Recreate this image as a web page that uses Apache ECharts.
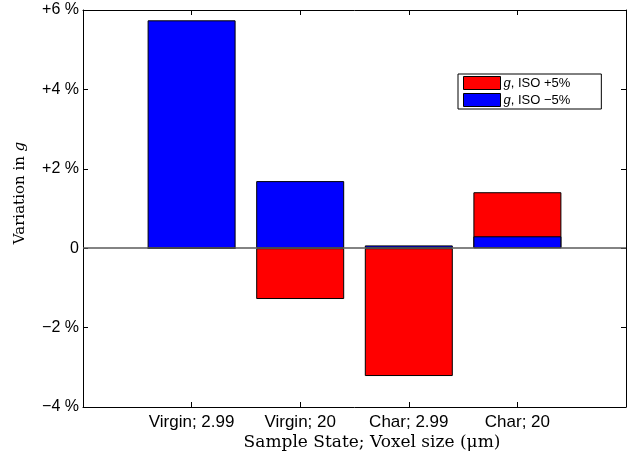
<!DOCTYPE html>
<html>
<head>
<meta charset="utf-8">
<script src="https://cdn.jsdelivr.net/npm/echarts@6/dist/echarts.min.js"></script>
<style>
html,body{margin:0;padding:0;background:#fff;}
#c{width:632px;height:457px;}
</style>
</head>
<body>
<div id="c"></div>
<script>
var categories = ['Virgin; 2.99', 'Virgin; 20', 'Char; 2.99', 'Char; 20'];
var isoPlus5 = [0, -1.28, -3.22, 1.41];
var isoMinus5 = [5.74, 1.69, 0.07, 0.30];
var yTicks = [-4, -2, 0, 2, 4, 6];
var yTickLabels = ['\u22124 %', '\u22122 %', '0', '+2 %', '+4 %', '+6 %'];
var seriesNames = ['g, ISO +5%', 'g, ISO \u22125%'];

var cats = [''].concat(categories).concat(['']);
var pad = function (a) { return [null].concat(a).concat([null]); };

var sans = 'Liberation Sans, Arial, Helvetica, sans-serif';
var serif = 'DejaVu Serif, serif';

var chart = echarts.init(document.getElementById('c'));
var axCommon = {
  axisLine: { show: true, onZero: false, lineStyle: { color: '#000', width: 1 } },
  axisTick: { show: true, inside: true, length: 5, lineStyle: { color: '#000' } },
  splitLine: { show: false }
};
chart.setOption({
  animation: false,
  backgroundColor: '#fff',
  grid: { left: 83, right: 6, top: 10, bottom: 50, containLabel: false },
  xAxis: [
    Object.assign({}, axCommon, {
      type: 'category', data: cats, boundaryGap: false, position: 'bottom',
      axisLabel: { color: '#000', fontFamily: sans, fontSize: 17, margin: 7, interval: 0 }
    }),
    Object.assign({}, axCommon, {
      type: 'category', data: cats, boundaryGap: false, position: 'top',
      axisLabel: { show: false }
    })
  ],
  yAxis: [
    Object.assign({}, axCommon, {
      type: 'value', min: -4, max: 6, interval: 2, position: 'left',
      axisLabel: {
        color: '#000', fontFamily: sans, fontSize: 16, margin: 4,
        formatter: function (v) { var i = yTicks.indexOf(v); return i >= 0 ? yTickLabels[i] : ''; }
      }
    }),
    Object.assign({}, axCommon, {
      type: 'value', min: -4, max: 6, interval: 2, position: 'right',
      axisLabel: { show: false }
    })
  ],
  legend: {
    orient: 'vertical', left: 458, top: 74,
    padding: [2, 31, 2, 5], itemGap: 3, itemWidth: 37, itemHeight: 13,
    backgroundColor: '#fff', borderColor: '#000', borderWidth: 1, borderRadius: 0,
    icon: 'rect',
    itemStyle: { borderColor: '#000', borderWidth: 1 },
    data: seriesNames,
    formatter: function (name) { return '{i|g}' + name.slice(1); },
    textStyle: {
      color: '#000', fontFamily: sans, fontSize: 13, padding: [0, 0, 0, -2],
      rich: { i: { fontStyle: 'italic', fontFamily: sans, fontSize: 13, color: '#000' } }
    }
  },
  graphic: [
    { type: 'text', x: 372, y: 443,
      style: { text: 'Sample State; Voxel size (\u03bcm)', font: '17px ' + serif, fill: '#000', align: 'center', verticalAlign: 'middle' } },
    { type: 'text', rotation: Math.PI / 2, x: 20, y: 193,
      style: {
        text: 'Variation in {i|g}', font: '15px ' + serif, fill: '#000', align: 'center', verticalAlign: 'middle',
        rich: { i: { fontStyle: 'italic', fontFamily: serif, fontSize: 15 } }
      } }
  ],
  series: [
    {
      name: seriesNames[0], type: 'bar', data: pad(isoPlus5), barWidth: 88, barGap: '-100%',
      itemStyle: { color: '#ff0000', borderColor: '#000', borderWidth: 1 }
    },
    {
      name: seriesNames[1], type: 'bar', data: pad(isoMinus5), barWidth: 88, barGap: '-100%',
      itemStyle: { color: '#0000ff', borderColor: '#000', borderWidth: 1 },
      markLine: {
        silent: true, symbol: 'none', label: { show: false },
        lineStyle: { color: '#5a5a5a', width: 1.5, type: 'solid' },
        data: [{ yAxis: 0 }]
      }
    }
  ]
});
</script>
</body>
</html>
